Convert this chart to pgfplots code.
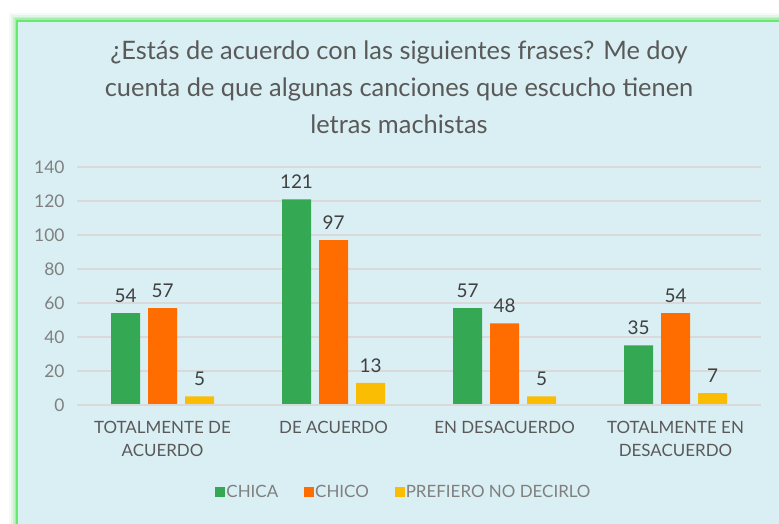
\documentclass[border=0pt]{standalone}
\usepackage{pgfplots}
\pgfplotsset{compat=1.18}
\usepackage{fontspec}
\setmainfont{Lato}
\definecolor{bgc}{HTML}{DAEFF3}
\definecolor{cga}{HTML}{34A853}
\definecolor{cgo}{HTML}{FF6D01}
\definecolor{cgy}{HTML}{FBBC04}
\definecolor{titlec}{HTML}{595959}
\definecolor{tickc}{HTML}{7F7F7F}
\definecolor{lblc}{HTML}{404040}
\definecolor{gridc}{HTML}{D9D9D9}
\definecolor{glow}{HTML}{8FE39A}
\begin{document}
\begin{tikzpicture}[x=1bp,y=1bp]
\useasboundingbox (0,0) rectangle (779,524);
\fill[white] (0,0) rectangle (779,524);
\begin{scope}
\clip (0,0) rectangle (779,524);
\foreach \w/\o in {16/0.10,12/0.18,8/0.3,5/0.5} {
  \draw[glow, line width=\w, opacity=\o] (17,-10) rectangle (800,503);
}
\fill[bgc] (17,-10) rectangle (800,503);
\draw[glow!70!green, line width=1.2] (17,-10) rectangle (800,503);
\end{scope}
\node[align=center, font=\fontsize{25.5}{37}\selectfont, text=titlec] at (399,437)
  {¿Estás de acuerdo con las siguientes frases? Me doy\\cuenta de que algunas canciones que escucho tienen\\letras machistas};
\begin{axis}[
  at={(77bp,119bp)}, anchor=south west,
  scale only axis, width=684bp, height=238bp,
  ybar=8bp, bar width=29bp,
  xmin=-0.5, xmax=3.5, ymin=0, ymax=140,
  ytick={0,20,...,140},
  xtick={0,1,2,3},
  xticklabels={{TOTALMENTE DE\\ACUERDO},{DE ACUERDO},{EN DESACUERDO},{TOTALMENTE EN\\DESACUERDO}},
  xticklabel style={align=center, text=titlec, font=\fontsize{17}{24}\selectfont, yshift=-8bp},
  yticklabel style={text=tickc, font=\fontsize{17.5}{19}\selectfont, xshift=-9bp},
  /pgf/number format/assume math mode=true,
  axis line style={draw=none},
  major tick style={draw=none},
  ymajorgrids, grid style={gridc, line width=1.5bp},
  nodes near coords,
  every node near coord/.append style={text=lblc, font=\fontsize{19}{21}\selectfont, yshift=7bp},
  legend columns=-1,
  legend style={at={(0.478,-0.366)}, anchor=center, draw=none, fill=none,
    font=\fontsize{17}{19}\selectfont, text=tickc,
    /tikz/every odd column/.append style={column sep=-1bp},
    /tikz/every even column/.append style={column sep=24bp}},
  legend image code/.code={\fill[#1] (0,-5bp) rectangle (10bp,5bp);},
]
\addplot[fill=cga, draw=none] coordinates {(0,54) (1,121) (2,57) (3,35)};
\addplot[fill=cgo, draw=none] coordinates {(0,57) (1,97) (2,48) (3,54)};
\addplot[fill=cgy, draw=none] coordinates {(0,5) (1,13) (2,5) (3,7)};
\draw[gridc, line width=1.5bp] (rel axis cs:0,0) -- (rel axis cs:1,0);
\legend{CHICA, CHICO, PREFIERO NO DECIRLO}
\end{axis}
\end{tikzpicture}
\end{document}
